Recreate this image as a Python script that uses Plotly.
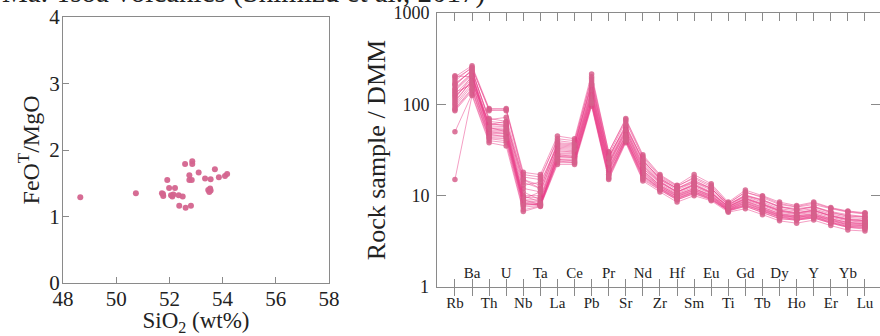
import plotly.graph_objects as go

# ---- Left panel data: SiO2 vs FeOT/MgO ----
sio2 = [48.65, 50.74, 51.72, 51.77, 51.76, 51.92, 51.99, 52.06, 52.11, 52.15, 52.21,
        52.35, 52.50, 52.37, 52.61, 52.81, 52.59, 52.86, 52.86, 52.75, 52.75, 52.84,
        53.10, 53.34, 53.55, 53.46, 53.53, 53.55, 53.50, 53.71, 53.86, 54.09, 54.17]
feot_mgo = [1.29, 1.35, 1.35, 1.31, 1.34, 1.55, 1.43, 1.32, 1.30, 1.33, 1.43,
            1.32, 1.30, 1.16, 1.13, 1.16, 1.79, 1.83, 1.79, 1.62, 1.55, 1.55,
            1.66, 1.57, 1.56, 1.40, 1.42, 1.39, 1.37, 1.71, 1.59, 1.61, 1.64]

# ---- Right panel data: DMM-normalized spider diagram ----
elements = ["Rb", "Ba", "Th", "U", "Nb", "Ta", "La", "Ce", "Pb", "Pr", "Sr", "Nd", "Zr",
            "Hf", "Sm", "Eu", "Ti", "Gd", "Tb", "Dy", "Ho", "Y", "Er", "Yb", "Lu"]
samples = [
    [200, 265, 90, 90, 18, 17, 45, 42, 215, 30, 70, 28, 17, 13, 17, 13.5, 8.5, 11.5, 10, 8.5, 7.8, 8.5, 7.4, 6.8, 6.5],
    [190, 250, 88, 85, 16, 15, 42, 40, 190, 28, 65, 26, 16, 12.5, 16, 13, 8.2, 11, 9.5, 8, 7.5, 8, 7.2, 6.6, 6.3],
    [170, 230, 70, 65, 15, 13, 38, 37, 170, 26, 58, 24, 15.5, 12, 14.5, 12, 8, 10, 8.8, 7.5, 7, 7.5, 6.5, 6, 5.8],
    [160, 240, 65, 62, 14, 12, 36, 35, 160, 25, 55, 23, 15, 11.5, 14, 11.5, 7.8, 9.8, 8.5, 7.2, 6.8, 7.2, 6.3, 5.8, 5.6],
    [150, 220, 60, 60, 12, 11, 34, 33, 150, 24, 52, 22, 14.5, 11, 13.5, 11, 7.6, 9.5, 8.2, 7, 6.5, 7, 6.1, 5.6, 5.4],
    [140, 210, 58, 57, 10, 10, 32, 31, 140, 23, 50, 21, 14, 10.8, 13, 10.8, 7.5, 9.2, 8, 6.8, 6.3, 6.8, 6, 5.4, 5.2],
    [130, 200, 55, 55, 9.5, 9.5, 30, 30, 130, 22, 48, 20, 13.5, 10.5, 12.5, 10.5, 7.4, 9, 7.8, 6.6, 6.2, 6.6, 5.8, 5.3, 5.1],
    [120, 190, 52, 52, 9, 9, 29, 29, 125, 21, 46, 19, 13, 10.2, 12, 10.2, 7.3, 8.8, 7.5, 6.4, 6, 6.4, 5.6, 5.1, 5],
    [110, 180, 50, 50, 8.8, 8.5, 28, 28, 120, 20, 45, 18.5, 12.8, 10, 11.8, 10, 7.2, 8.6, 7.3, 6.2, 5.9, 6.2, 5.5, 5, 4.9],
    [100, 170, 48, 48, 8.5, 8.2, 27, 27, 115, 19, 44, 18, 12.5, 9.8, 11.5, 9.8, 7.1, 8.4, 7.1, 6.1, 5.8, 6.1, 5.4, 4.9, 4.8],
    [95, 160, 46, 46, 8.2, 8, 26, 26, 110, 18, 43, 17, 12.2, 9.6, 11.2, 9.6, 7, 8.2, 7, 6, 5.7, 6, 5.3, 4.8, 4.7],
    [90, 150, 44, 44, 8, 7.9, 25, 25, 105, 17, 42, 16.5, 12, 9.4, 11, 9.4, 7, 8, 6.9, 5.9, 5.6, 5.9, 5.2, 4.7, 4.6],
    [85, 140, 42, 40, 7.5, 7.8, 24, 24, 100, 16, 40, 16, 11.8, 9.2, 10.8, 9.2, 6.9, 7.8, 6.8, 5.8, 5.5, 5.8, 5.1, 4.6, 4.5],
    [50, 130, 40, 38, 7, 7.7, 23, 23, 98, 15.5, 39, 15, 11.5, 9, 10.5, 9, 6.8, 7.6, 6.6, 5.6, 5.4, 5.7, 5, 4.5, 4.4],
    [15, 125, 38, 35, 6.7, 7.6, 22, 22, 95, 15, 38, 14.5, 11, 8.5, 10, 8.8, 6.6, 7.2, 6.2, 5.3, 5, 5.4, 4.7, 4.2, 4.1],
    [180, 255, 85, 88, 17, 16, 40, 38, 200, 30, 68, 27, 16.5, 12.8, 15.5, 12.5, 8.3, 10.8, 9.8, 8.2, 7.6, 8.3, 7.3, 6.7, 6.4],
    [205, 200, 60, 65, 13, 14, 35, 34, 180, 27, 56, 25, 15, 12, 14, 12, 7.9, 10, 9, 7.6, 7, 7.6, 6.7, 6.2, 5.9],
    [125, 175, 62, 58, 11, 9, 31, 30, 135, 22, 50, 20, 14, 11, 13, 10.6, 7.6, 9.3, 8, 6.8, 6.4, 6.9, 6, 5.5, 5.3],
    [145, 215, 50, 48, 9, 8, 28, 27, 125, 20, 46, 19, 13, 10.3, 12, 10, 7.3, 8.7, 7.5, 6.3, 6, 6.3, 5.6, 5.1, 4.9],
    [105, 185, 54, 53, 10, 8.5, 27, 26, 112, 19, 42, 17.5, 12.5, 9.8, 11.5, 9.7, 7.1, 8.3, 7.2, 6.1, 5.8, 6.1, 5.4, 4.8, 4.7],
    [135, 165, 47, 44, 8.3, 7.9, 24, 23, 108, 17, 41, 16.5, 12, 9.3, 11, 9.3, 6.9, 7.9, 6.8, 5.8, 5.5, 5.9, 5.1, 4.6, 4.5],
    [115, 205, 56, 50, 9.2, 11, 33, 32, 145, 23, 53, 21.5, 14.2, 11, 13.2, 10.8, 7.6, 9.3, 8.1, 6.9, 6.5, 6.9, 6, 5.5, 5.3],
    [88, 145, 43, 42, 7.8, 8.2, 25, 24, 102, 16.5, 40, 15.5, 11.6, 9, 10.6, 9.1, 6.8, 7.7, 6.5, 5.6, 5.4, 5.7, 5, 4.5, 4.3],
    [165, 235, 68, 72, 15, 12, 37, 36, 165, 26, 60, 24, 15.5, 12, 14.8, 12, 8, 10.2, 9, 7.6, 7.2, 7.6, 6.6, 6, 5.9],
]
y2_tickvals = [1, 10, 100, 1000]
y2_ticktext = ["1", "10", "100", "1000"]
title_text = "Ma. Tsoa volcanics (Shimizu et al., 2017)"

FONT = "Liberation Serif"
TXT = "#222222"
AX = "#8a8a8a"
PINK_LINE = "rgba(232,60,135,0.55)"
PINK_MK = "rgba(214,96,140,0.85)"

W, H = 880, 336
def px(x):
    return x / W
def py(y):
    return 1 - y / H

fig = go.Figure()

fig.add_trace(go.Scatter(x=sio2, y=feot_mgo, mode="markers", xaxis="x", yaxis="y",
                         marker=dict(size=6, color="rgba(212,100,142,0.95)"),
                         showlegend=False, hoverinfo="skip"))

xi = list(range(len(elements)))
for s in samples:
    fig.add_trace(go.Scatter(x=xi, y=s, mode="lines+markers", xaxis="x2", yaxis="y2",
                             line=dict(color=PINK_LINE, width=0.9),
                             marker=dict(size=5.5, color=PINK_MK),
                             showlegend=False, hoverinfo="skip"))
# invisible helper trace for overlay axis
fig.add_trace(go.Scatter(x=[0], y=[1], mode="markers", xaxis="x3", yaxis="y2",
                         marker=dict(size=1, color="rgba(0,0,0,0)"),
                         showlegend=False, hoverinfo="skip"))

even_text = [e if i % 2 == 0 else "" for i, e in enumerate(elements)]
odd_text = [e if i % 2 == 1 else "" for i, e in enumerate(elements)]
# the bottom label ("1") gets auto-hidden by plotly next to inside x labels; draw it as annotation
y2_axis_text = [t if v != 1 else "" for v, t in zip(y2_tickvals, y2_ticktext)]

fig.update_layout(
    width=W, height=H,
    margin=dict(l=0, r=0, t=0, b=0, autoexpand=False),
    paper_bgcolor="white", plot_bgcolor="white",
    font=dict(family=FONT, color=TXT),
    xaxis=dict(domain=[px(63), px(329)], range=[48, 58], tickvals=[48, 50, 52, 54, 56, 58],
               showline=True, linecolor=AX, linewidth=1, mirror=True,
               ticks="inside", ticklen=6, tickcolor=AX, showgrid=False, zeroline=False,
               tickfont=dict(size=21, family=FONT, color=TXT), ticklabelstandoff=-3,
               title=dict(text="SiO<sub>2</sub> (wt%)", font=dict(size=23, family=FONT, color=TXT), standoff=6),
               anchor="y"),
    yaxis=dict(domain=[py(283), py(17)], range=[0, 4], tickvals=[0, 1, 2, 3, 4],
               showline=True, linecolor=AX, linewidth=1, mirror=True,
               ticks="inside", ticklen=6, tickcolor=AX, showgrid=False, zeroline=False,
               tickfont=dict(size=21, family=FONT, color=TXT), ticklabelstandoff=-2,
               title=dict(text="FeO<sup>T</sup>/MgO", font=dict(size=24, family=FONT, color=TXT), standoff=2),
               anchor="x"),
    xaxis2=dict(domain=[px(437), 1.0], range=[-1.05, 24.88], tickvals=xi, ticktext=even_text,
                showline=True, linecolor=AX, linewidth=1, mirror=True,
                ticks="outside", ticklen=8, tickcolor=AX, showgrid=False, zeroline=False,
                ticklabelstandoff=-6,
                tickfont=dict(size=15, family=FONT, color=TXT), anchor="y2"),
    xaxis3=dict(overlaying="x2", range=[-1.05, 24.88], tickvals=xi, ticktext=odd_text,
                showline=False, mirror="ticks",
                ticks="inside", ticklen=8, tickcolor=AX, showgrid=False, zeroline=False,
                ticklabelposition="inside", ticklabelstandoff=-2,
                tickfont=dict(size=15, family=FONT, color=TXT), anchor="y2"),
    yaxis2=dict(domain=[py(287), py(13)], type="log", range=[0, 3],
                tickvals=y2_tickvals, ticktext=y2_axis_text,
                showline=True, linecolor=AX, linewidth=1, mirror="ticks",
                ticks="inside", ticklen=9, tickcolor=AX, showgrid=False, zeroline=False,
                ticklabelstandoff=3,
                tickfont=dict(size=18, family=FONT, color=TXT),
                title=dict(text="Rock sample / DMM", font=dict(size=26, family=FONT, color=TXT), standoff=0),
                anchor="x2"),
)

fig.add_annotation(text=y2_ticktext[0], xref="x2 domain", yref="y2", x=0, y=0,
                   xanchor="right", yanchor="middle", xshift=-6, showarrow=False,
                   font=dict(size=18, family=FONT, color=TXT))

fig.add_annotation(text=title_text, xref="paper", yref="paper", x=0, y=py(11),
                   xanchor="left", yanchor="bottom", showarrow=False,
                   font=dict(size=29, family=FONT, color=TXT))

fig.write_html("out.html", config={"displayModeBar": False},
               post_script="document.body.style.margin='0';document.body.style.overflow='hidden';")
